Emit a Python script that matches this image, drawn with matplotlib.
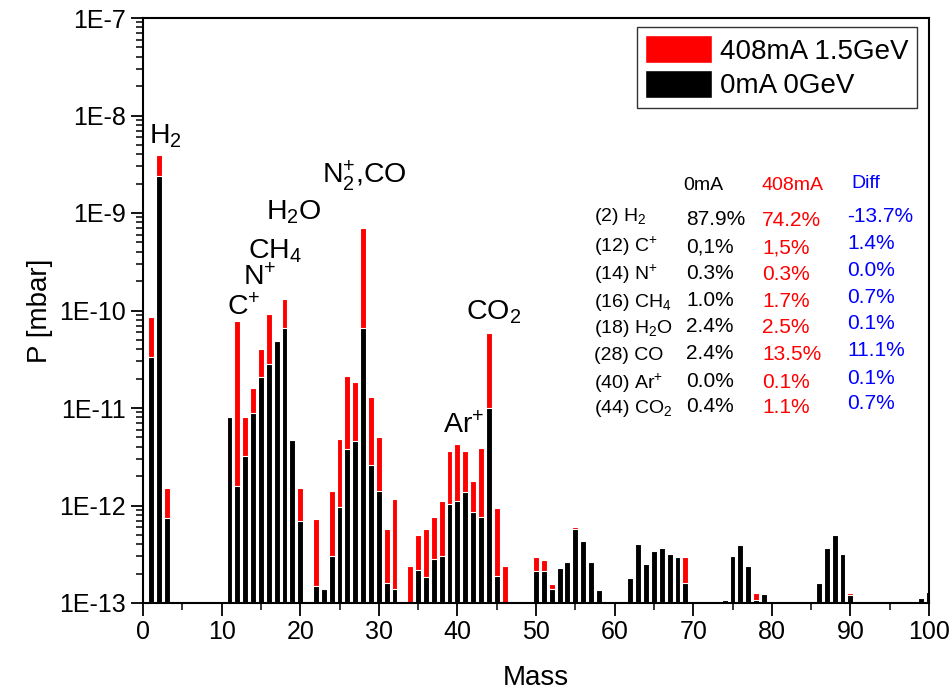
import matplotlib
matplotlib.use('Agg')
import matplotlib.pyplot as plt
from matplotlib.patches import Patch
from matplotlib.ticker import FixedLocator, LogLocator, NullFormatter, MultipleLocator
import numpy as np

plt.rcParams['font.family'] = ['Liberation Sans', 'DejaVu Sans']
plt.rcParams['mathtext.fontset'] = 'custom'
plt.rcParams['mathtext.rm'] = 'Liberation Sans'
plt.rcParams['mathtext.it'] = 'Liberation Sans:italic'
plt.rcParams['mathtext.bf'] = 'Liberation Sans:bold'

# 0mA 0GeV (black bars)
mass_0mA = [1, 2, 3, 11, 12, 13, 14, 15, 16, 17, 18, 19, 20, 22, 23, 24, 25, 26, 27, 28,
            29, 30, 31, 32, 35, 36, 37, 38, 39, 40, 41, 42, 43, 44, 45, 50, 51, 52, 53,
            54, 55, 56, 57, 58, 62, 63, 64, 65, 66, 67, 68, 69, 74, 75, 76, 77, 78, 79,
            86, 87, 88, 89, 90, 99, 100]
p_0mA = [3.3e-11, 2.4e-9, 7.5e-13, 8.0e-12, 1.6e-12, 3.2e-12, 8.9e-12, 2.1e-11, 2.8e-11,
         4.9e-11, 6.6e-11, 4.7e-12, 7.0e-13, 1.5e-13, 1.4e-13, 3.0e-13, 9.6e-13, 3.8e-12,
         4.6e-12, 6.6e-11, 2.6e-12, 1.4e-12, 1.6e-13, 1.4e-13, 2.2e-13, 1.86e-13, 2.8e-13,
         3.0e-13, 1.04e-12, 1.12e-12, 1.39e-12, 8.5e-13, 7.7e-13, 9.9e-12, 1.9e-13,
         2.14e-13, 2.14e-13, 1.38e-13, 2.29e-13, 2.61e-13, 5.74e-13, 4.32e-13, 2.61e-13,
         1.36e-13, 1.79e-13, 4.0e-13, 2.51e-13, 3.44e-13, 3.64e-13, 3.18e-13, 2.94e-13,
         1.62e-13, 1.07e-13, 3.05e-13, 3.9e-13, 2.41e-13, 1.07e-13, 1.25e-13, 1.6e-13,
         3.64e-13, 4.95e-13, 3.16e-13, 1.22e-13, 1.12e-13, 1.3e-13]

# 408mA 1.5GeV (red bars)
mass_408mA = [1, 2, 3, 12, 13, 14, 15, 16, 18, 20, 22, 24, 25, 26, 27, 28, 29, 30, 31, 32,
              34, 35, 36, 37, 38, 39, 40, 41, 42, 43, 44, 45, 46, 50, 51, 52, 55, 69, 78, 90]
p_408mA = [8.5e-11, 3.9e-9, 1.5e-12, 7.8e-11, 8.0e-12, 1.6e-11, 4.0e-11, 9.1e-11, 1.3e-10,
           1.5e-12, 7.2e-13, 1.4e-12, 4.8e-12, 2.15e-11, 1.86e-11, 7.1e-10, 1.3e-11, 5.1e-12,
           5.7e-13, 1.16e-12, 2.4e-13, 5.0e-13, 5.7e-13, 7.7e-13, 1.1e-12, 3.6e-12, 4.3e-12,
           3.65e-12, 1.8e-12, 3.9e-12, 5.9e-11, 9.4e-13, 2.4e-13, 2.98e-13, 2.76e-13,
           1.57e-13, 6.0e-13, 2.94e-13, 1.26e-13, 1.27e-13]

# peak labels (text, mass, pressure at baseline)
peak_text = [r'H$\mathregular{_2}$', r'C$\mathregular{^{+}}$', r'N$\mathregular{^{+}}$',
             r'CH$\mathregular{_4}$', r'H$\mathregular{_2}$O', r'N$\mathregular{_2^{+}}$,CO',
             r'CO$\mathregular{_2}$', r'Ar$\mathregular{^{+}}$']
peak_x = [0.76, 10.7, 12.76, 13.4, 15.7, 22.8, 41.06, 38.2]
peak_p = [5.2e-9, 9.0e-11, 1.83e-10, 3.45e-10, 8.5e-10, 2.03e-9, 8.0e-11, 5.58e-12]

# composition table
tab_labels = [r'(2) H$\mathregular{_2}$', r'(12) C$\mathregular{^{+}}$', r'(14) N$\mathregular{^{+}}$',
              r'(16) CH$\mathregular{_4}$', r'(18) H$\mathregular{_2}$O', '(28) CO',
              r'(40) Ar$\mathregular{^{+}}$', r'(44) CO$\mathregular{_2}$']
tab_0mA = ['87.9%', '0,1%', '0.3%', '1.0%', '2.4%', '2.4%', '0.0%', '0.4%']
tab_408mA = ['74.2%', '1,5%', '0.3%', '1.7%', '2.5%', '13.5%', '0.1%', '1.1%']
tab_diff = ['-13.7%', '1.4%', '0.0%', '0.7%', '0.1%', '11.1%', '0.1%', '0.7%']

W, H = 949, 691
BASE = 1e-13

fig = plt.figure(figsize=(W / 100, H / 100), dpi=100)
ax = fig.add_axes([143 / W, 1 - 603 / H, 786 / W, 585 / H])
ax.set_yscale('log')

ax.bar(mass_408mA, np.array(p_408mA) - BASE, bottom=BASE, width=0.75,
       color='#ff0000', edgecolor='white', linewidth=0.8)
ax.bar(mass_0mA, np.array(p_0mA) - BASE, bottom=BASE, width=0.75,
       color='black', edgecolor='white', linewidth=0.8)

ax.set_xlim(0, 100)
ax.set_ylim(1e-13, 1e-7)
ax.xaxis.set_major_locator(MultipleLocator(10))
ax.xaxis.set_minor_locator(MultipleLocator(5))
ydec = [-13, -12, -11, -10, -9, -8, -7]
ax.yaxis.set_major_locator(FixedLocator([10.0 ** d for d in ydec]))
ax.set_yticklabels(['1E%d' % d for d in ydec])
ax.yaxis.set_minor_locator(LogLocator(base=10, subs=np.arange(2, 10)))
ax.yaxis.set_minor_formatter(NullFormatter())

ax.tick_params(which='major', direction='out', length=9, width=1.3, labelsize=18)
ax.tick_params(which='minor', direction='out', length=5, width=1.1)
for s in ax.spines.values():
    s.set_linewidth(1.5)

ax.set_xlabel('Mass', fontsize=20, labelpad=15)
ax.set_ylabel('P [mbar]', fontsize=20, labelpad=4)

for t, x, p in zip(peak_text, peak_x, peak_p):
    ax.text(x, p, t, fontsize=20.5, ha='left', va='baseline')

leg = ax.legend(handles=[Patch(facecolor='#ff0000', edgecolor='white'),
                         Patch(facecolor='black', edgecolor='white')],
                labels=['408mA 1.5GeV', '0mA 0GeV'],
                loc='upper right', bbox_to_anchor=(0.9847, 0.9846), borderaxespad=0,
                fontsize=20, fancybox=False, framealpha=1, edgecolor='#333333',
                handlelength=2.4, handleheight=1.15, handletextpad=0.3,
                labelspacing=0.2, borderpad=0.3)
leg.get_frame().set_linewidth(1.0)


def fx(px):
    return px / W


def fy(py):
    return 1 - py / H


# table header
fig.text(fx(683), fy(190), '0mA', fontsize=14, color='black')
fig.text(fx(762), fy(190), '408mA', fontsize=14, color='#ff0000')
fig.text(fx(851), fy(188), 'Diff', fontsize=14, color='#0000ff')

label_y = [221, 252, 280, 307, 333, 360, 389, 413]
value_y = [225, 252, 279, 306, 332, 359, 387, 412]
for i in range(len(tab_labels)):
    fig.text(fx(594), fy(label_y[i]), tab_labels[i], fontsize=14, color='black')
    fig.text(fx(686), fy(value_y[i]), tab_0mA[i], fontsize=15, color='black')
    fig.text(fx(762), fy(value_y[i] + 1), tab_408mA[i], fontsize=15, color='#ff0000')
    fig.text(fx(847), fy(value_y[i] - 3), tab_diff[i], fontsize=15, color='#0000ff')

fig.savefig('out.png', dpi=100)
